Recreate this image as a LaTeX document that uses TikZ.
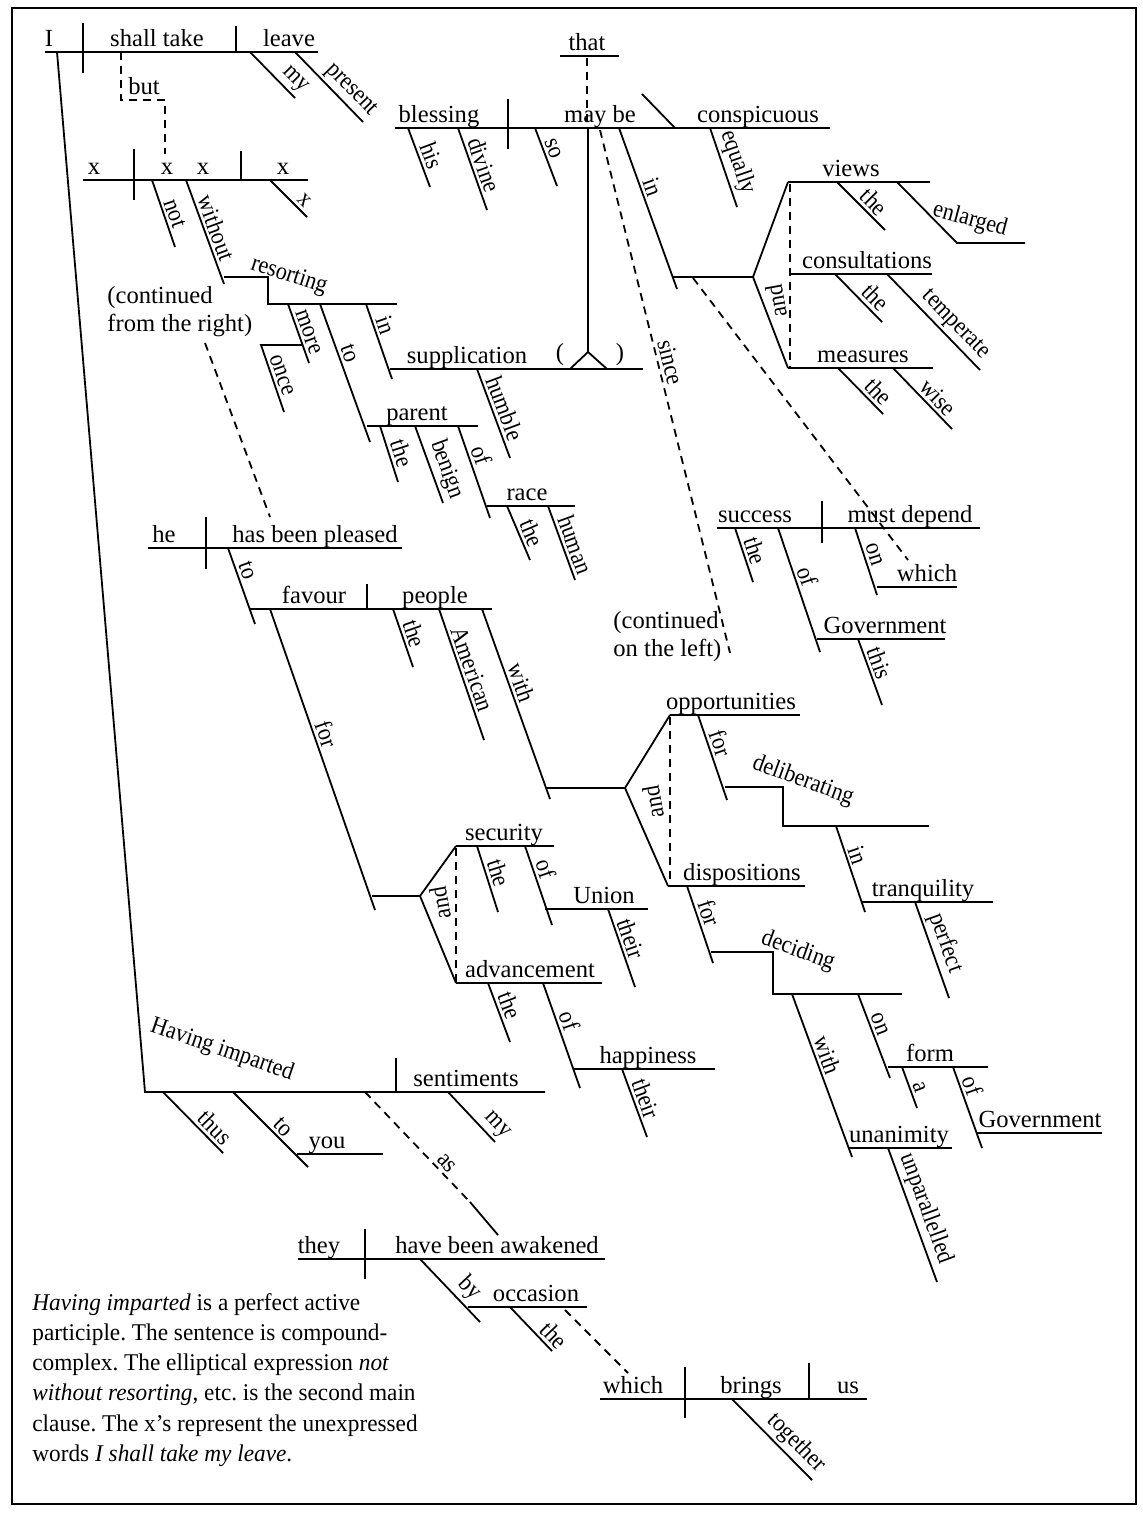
\documentclass[tikz,border=0pt]{standalone}
\usepackage{fontspec}
\setmainfont{Liberation Serif}
\newfontfamily\narrowserif[FakeStretch=0.9]{Liberation Serif}
\newfontfamily\notefamily[FakeStretch=0.97]{Liberation Serif}
\newcommand\notefont{\notefamily\fontsize{12}{15.1}\selectfont\frenchspacing}
\tikzset{
  ln/.style={line width=0.9pt},
  dln/.style={ln,dash pattern=on 4pt off 3pt},
  wd/.style={anchor=base,inner sep=0pt,yshift=2.8pt,font=\fontsize{12.3}{14}\selectfont},
  sl/.style={sloped,above,inner xsep=0pt,inner ysep=1.5pt,font=\narrowserif\fontsize{12.3}{14}\selectfont},
  rot/.style={inner sep=0pt,font=\narrowserif\fontsize{12.3}{14}\selectfont},
  cont/.style={anchor=north west,align=left,inner sep=0pt,font=\fontsize{12.3}{14}\selectfont},
}
\begin{document}
\begin{tikzpicture}[x=0.5pt,y=-0.5pt]
\useasboundingbox (0,0) rectangle (1143,1518);
\draw[line width=1.1pt] (12,8) rectangle (1136,1504);

\draw[ln] (45,52) -- (318,52);
\draw[ln] (83,23) -- (83,73);
\draw[ln] (236,26) -- (236,52);
\node[wd] (I) at (49,52) {I};
\node[wd] (shalltake) at (157,52) {shall take};
\node[wd] (leave) at (289,52) {leave};
\draw[ln] (250,52) -- (295,98) node[sl,pos=.8] (my1) {my};
\draw[ln] (295,52) -- (363,122) node[sl,pos=.68] (present) {present};

\draw[ln] (57,52) -- (145,1092) -- (545,1092);
\node[rot,rotate=-19] (having) at (222,1050) {Having imparted};
\draw[ln] (396,1058) -- (396,1092);
\node[wd] (sentiments) at (466,1092) {sentiments};
\draw[ln] (163,1092) -- (223,1153) node[sl,pos=.72] (thus) {thus};
\draw[ln] (233,1092) -- (308,1167) node[sl,pos=.57] (to3) {to};
\draw[ln] (297,1154) -- (383,1154);
\node[wd] (you) at (327,1154) {you};
\draw[ln] (448,1092) -- (495,1142) node[sl,pos=.85] (my2) {my};
\draw[dln] (365,1092) -- (470,1202) node[sl,pos=.71] (as) {as};
\draw[ln] (470,1202) -- (498,1235);

\draw[dln] (121,52) -- (121,100) -- (165,100) -- (165,154);
\node[wd] (but) at (144,100) {but};

\draw[ln] (83,180) -- (308,180);
\draw[ln] (134,149) -- (134,200);
\draw[ln] (241,151) -- (241,180);
\node[wd] (x1) at (94,180) {x};
\node[wd] (x2) at (167,180) {x};
\node[wd] (x3) at (203,180) {x};
\node[wd] (x4) at (283,180) {x};
\draw[ln] (270,180) -- (307,217) node[sl,pos=.74] (x5) {x};
\draw[ln] (152,180) -- (175,247) node[sl,pos=.55] (not) {not};
\draw[ln] (186,180) -- (224,284) node[sl,pos=.5] (without) {without};
\draw[ln] (224,277) -- (268,277) -- (268,304) -- (397,304);
\node[rot,rotate=-18] (resorting) at (289,276) {resorting};
\draw[ln] (288,304) -- (309,363) node[sl,pos=.53] (more) {more};
\draw[ln] (302,345) -- (261,345) -- (284,412) node[sl,pos=.5] (once) {once};
\draw[ln] (320,304) -- (370,442) node[sl,pos=.385] (to1) {to};
\draw[ln] (366,304) -- (392,379) node[sl,pos=.33] (in1) {in};
\draw[ln] (390,369) -- (643,369);
\node[wd] (supplication) at (467,369) {supplication};
\node[wd,yshift=1.5pt] (lp) at (560,369) {(};
\node[wd,yshift=1.5pt] (rp) at (620,369) {)};
\draw[ln] (588,128) -- (588,352);
\draw[ln] (570,369) -- (588,352) -- (607,369);
\draw[ln] (477,369) -- (510,458) node[sl,pos=.49] (humble) {humble};
\draw[ln] (367,426) -- (478,426);
\node[wd] (parent) at (417,426) {parent};
\draw[ln] (380,426) -- (398,482) node[sl,pos=.55] (the1) {the};
\draw[ln] (415,426) -- (443,503) node[sl,pos=.63] (benign) {benign};
\draw[ln] (458,426) -- (490,518) node[sl,pos=.36] (of1) {of};
\draw[ln] (487,506) -- (575,506);
\node[wd] (race) at (527,506) {race};
\draw[ln] (507,506) -- (530,560) node[sl,pos=.59] (the2) {the};
\draw[ln] (548,506) -- (575,580) node[sl,pos=.58] (human) {human};
\node[cont] (contright) at (107,286) {(continued\\from the right)};
\draw[dln] (205,343) -- (270,517);

\draw[ln] (395,128) -- (830,128);
\draw[ln] (508,99) -- (508,149);
\draw[ln] (642,94) -- (675,128);
\node[wd] (blessing) at (439,128) {blessing};
\node[wd] (maybe) at (600,128) {may be};
\node[wd] (conspicuous) at (758,128) {conspicuous};
\draw[ln] (560,56) -- (619,56);
\node[wd] (that) at (587,56) {that};
\draw[dln] (587,58) -- (587,128);
\draw[ln] (408,128) -- (430,187) node[sl,pos=.54] (his) {his};
\draw[ln] (458,128) -- (487,210) node[sl,pos=.5] (divine) {divine};
\draw[ln] (535,128) -- (557,186) node[sl,pos=.41] (so) {so};
\draw[ln] (710,128) -- (737,207) node[sl,pos=.5] (equally) {equally};
\draw[ln] (619,128) -- (677,289) node[sl,pos=.39] (in2) {in};
\draw[ln] (673,277) -- (753,277);
\draw[ln] (788,182) -- (753,277) -- (788,368);
\draw[dln] (790,184) -- (790,368);
\node[rot,rotate=100] (and1) at (776,301) {and};
\draw[ln] (788,182) -- (930,182);
\node[wd] (views) at (851,182) {views};
\draw[ln] (837,182) -- (885,230) node[sl,pos=.59] (the3) {the};
\draw[ln] (897,182) -- (957,243) -- (1025,243);
\node[rot,rotate=-15] (enlarged) at (970,220) {enlarged};
\draw[ln] (790,274) -- (932,274);
\node[wd] (consultations) at (867,274) {consultations};
\draw[ln] (835,274) -- (882,322) node[sl,pos=.67] (the4) {the};
\draw[ln] (887,274) -- (980,370) node[sl,pos=.63] (temperate) {temperate};
\draw[ln] (788,368) -- (933,368);
\node[wd] (measures) at (863,368) {measures};
\draw[ln] (838,368) -- (883,414) node[sl,pos=.7] (the5) {the};
\draw[ln] (893,368) -- (952,429) node[sl,pos=.62] (wise) {wise};

\draw[dln] (600,130) -- (730,653) node[sl,pos=.45] (since) {since};
\node[cont] (contleft) at (613,611) {(continued\\on the left)};

\draw[dln] (693,278) -- (908,560);
\draw[ln] (717,528) -- (980,528);
\draw[ln] (822,501) -- (822,543);
\node[wd] (success) at (755,528) {success};
\node[wd] (mustdepend) at (910,528) {must depend};
\draw[ln] (735,528) -- (753,582) node[sl,pos=.49] (the6) {the};
\draw[ln] (778,528) -- (820,652) node[sl,pos=.42] (of2) {of};
\draw[ln] (817,639) -- (945,639);
\node[wd] (government1) at (885,639) {Government};
\draw[ln] (858,639) -- (882,705) node[sl,pos=.43] (this) {this};
\draw[ln] (855,528) -- (877,595) node[sl,pos=.44] (on1) {on};
\draw[ln] (877,587) -- (957,587);
\node[wd] (which1) at (927,587) {which};

\draw[ln] (148,548) -- (402,548);
\draw[ln] (206,517) -- (206,569);
\node[wd] (he) at (164,548) {he};
\node[wd] (pleased) at (315,548) {has been pleased};
\draw[ln] (228,548) -- (255,624) node[sl,pos=.34] (to2) {to};
\draw[ln] (250,609) -- (492,609);
\draw[ln] (367,584) -- (367,609);
\node[wd] (favour) at (314,609) {favour};
\node[wd] (people) at (435,609) {people};
\draw[ln] (393,609) -- (413,667) node[sl,pos=.49] (the7) {the};
\draw[ln] (439,609) -- (484,740) node[sl,pos=.49] (american) {American};
\draw[ln] (482,609) -- (550,799) node[sl,pos=.41] (with1) {with};
\draw[ln] (546,788) -- (625,788);
\draw[ln] (670,715) -- (625,788) -- (668,886);
\draw[dln] (670,717) -- (670,886);
\node[rot,rotate=100] (and2) at (653,802) {and};
\draw[ln] (670,715) -- (800,715);
\node[wd] (opportunities) at (731,715) {opportunities};
\draw[ln] (698,715) -- (727,800) node[sl,pos=.38] (for2) {for};
\draw[ln] (725,787) -- (783,787) -- (783,826) -- (929,826);
\node[rot,rotate=-20] (deliberating) at (803,781) {deliberating};
\draw[ln] (836,826) -- (865,912) node[sl,pos=.38] (in3) {in};
\draw[ln] (862,902) -- (993,902);
\node[wd] (tranquility) at (923,902) {tranquility};
\draw[ln] (915,902) -- (949,998) node[sl,pos=.48] (perfect) {perfect};
\draw[ln] (668,886) -- (805,886);
\node[wd] (dispositions) at (742,886) {dispositions};
\draw[ln] (687,886) -- (713,963) node[sl,pos=.4] (for3) {for};
\draw[ln] (711,952) -- (773,952) -- (773,994) -- (902,994);
\node[rot,rotate=-20] (deciding) at (798,951) {deciding};
\draw[ln] (792,994) -- (852,1157) node[sl,pos=.4] (with2) {with};
\draw[ln] (848,1148) -- (952,1148);
\node[wd] (unanimity) at (899,1148) {unanimity};
\draw[ln] (888,1148) -- (937,1282) node[sl,pos=.49] (unparallelled) {unparallelled};
\draw[ln] (858,994) -- (890,1078) node[sl,pos=.4] (on2) {on};
\draw[ln] (888,1067) -- (988,1067);
\node[wd] (form) at (930,1067) {form};
\draw[ln] (902,1067) -- (917,1108) node[sl,pos=.58] (a) {a};
\draw[ln] (953,1067) -- (982,1148) node[sl,pos=.28] (of5) {of};
\draw[ln] (977,1133) -- (1102,1133);
\node[wd] (government2) at (1040,1133) {Government};

\draw[ln] (270,609) -- (375,910) node[sl,pos=.43] (for1) {for};
\draw[ln] (372,896) -- (420,896);
\draw[ln] (456,846) -- (420,896) -- (456,983);
\draw[dln] (456,848) -- (456,983);
\node[rot,rotate=100] (and3) at (440,903) {and};
\draw[ln] (456,846) -- (554,846);
\node[wd] (security) at (504,846) {security};
\draw[ln] (477,846) -- (498,912) node[sl,pos=.46] (the8) {the};
\draw[ln] (525,846) -- (552,925) node[sl,pos=.34] (of3) {of};
\draw[ln] (545,909) -- (648,909);
\node[wd] (union) at (604,909) {Union};
\draw[ln] (608,909) -- (635,987) node[sl,pos=.43] (their1) {their};
\draw[ln] (456,983) -- (602,983);
\node[wd] (advancement) at (530,983) {advancement};
\draw[ln] (488,983) -- (510,1042) node[sl,pos=.45] (the9) {the};
\draw[ln] (543,983) -- (580,1088) node[sl,pos=.4] (of4) {of};
\draw[ln] (573,1069) -- (715,1069);
\node[wd] (happiness) at (648,1069) {happiness};
\draw[ln] (622,1069) -- (647,1137) node[sl,pos=.5] (their2) {their};

\draw[ln] (298,1259) -- (605,1259);
\draw[ln] (365,1229) -- (365,1279);
\node[wd] (they) at (319,1259) {they};
\node[wd] (awakened) at (497,1259) {have been awakened};
\draw[ln] (420,1259) -- (480,1322) node[sl,pos=.64] (by) {by};
\draw[ln] (468,1307) -- (587,1307);
\node[wd] (occasion) at (536,1307) {occasion};
\draw[ln] (510,1307) -- (552,1351) node[sl,pos=.84] (the10) {the};
\draw[dln] (565,1310) -- (628,1373);

\draw[ln] (600,1399) -- (867,1399);
\draw[ln] (685,1367) -- (685,1418);
\draw[ln] (809,1363) -- (809,1399);
\node[wd] (which2) at (633,1399) {which};
\node[wd] (brings) at (751,1399) {brings};
\node[wd] (us) at (848,1399) {us};
\draw[ln] (732,1399) -- (812,1480) node[sl,pos=.67] (together) {together};

\node[anchor=north west,align=left,inner sep=0pt,font=\notefont] (note) at (32,1293)
 {\textit{Having imparted} is a perfect active\\participle. The sentence is compound-\\complex. The elliptical expression \textit{not}\\\textit{without resorting}, etc. is the second main\\clause. The x’s represent the unexpressed\\words \textit{I shall take my leave}.};
\end{tikzpicture}
\end{document}
